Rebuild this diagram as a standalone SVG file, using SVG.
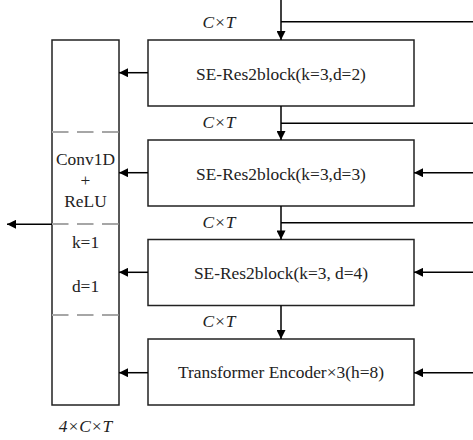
<svg xmlns="http://www.w3.org/2000/svg" width="473" height="440" viewBox="0 0 473 440">
<defs>
<marker id="ah" viewBox="0 0 10 10" refX="10" refY="5" markerWidth="10" markerHeight="9" markerUnits="userSpaceOnUse" orient="auto">
<path d="M0,0 L10,5 L0,10 Z" fill="#000"/>
</marker>
</defs>
<style>
.box{fill:#fff;stroke:#222;stroke-width:1.5}
.ln{fill:none;stroke:#000;stroke-width:1.5}
.arr{fill:none;stroke:#000;stroke-width:1.5;marker-end:url(#ah)}
.dash{stroke:#a6a6a6;stroke-width:2;stroke-dasharray:16.5 8.5}
.t{font-family:"Liberation Serif","Times New Roman",serif;font-size:17.4px;fill:#222;text-anchor:middle}
.it{font-family:"Liberation Serif","Times New Roman",serif;font-size:17.4px;font-style:italic;fill:#222;text-anchor:middle}
</style>
<g id="concat">
<rect class="box" x="52" y="40" width="67" height="365"/>
<line class="dash" x1="52" y1="132" x2="119" y2="132"/>
<line class="dash" x1="52" y1="224" x2="119" y2="224"/>
<line class="dash" x1="52" y1="315" x2="119" y2="315"/>
<text class="t" x="85.5" y="165">Conv1D</text>
<text class="t" x="85.5" y="185.5" fill="#666">+</text>
<text class="t" x="85.5" y="206.5">ReLU</text>
<text class="t" x="85.5" y="248">k=1</text>
<text class="t" x="85.5" y="291.5">d=1</text>
<text class="it" x="85.5" y="431.5">4×C×T</text>
</g>
<g id="block1">
<rect class="box" x="148" y="40" width="266" height="66"/>
<text class="t" x="281" y="79.5">SE-Res2block(k=3,d=2)</text>
</g>
<g id="block2">
<rect class="box" x="148" y="140" width="266" height="66"/>
<text class="t" x="281" y="179.5">SE-Res2block(k=3,d=3)</text>
</g>
<g id="block3">
<rect class="box" x="148" y="239.5" width="266" height="66"/>
<text class="t" x="281" y="278.5">SE-Res2block(k=3, d=4)</text>
</g>
<g id="block4">
<rect class="box" x="148" y="339" width="266" height="66"/>
<text class="t" x="281" y="378">Transformer Encoder×3(h=8)</text>
</g>
<g id="labels">
<text class="it" x="219" y="28">C×T</text>
<text class="it" x="219" y="128">C×T</text>
<text class="it" x="219" y="227.5">C×T</text>
<text class="it" x="219" y="327">C×T</text>
</g>
<g id="connectors">
<line class="arr" x1="281" y1="0" x2="281" y2="40"/>
<line class="ln" x1="281" y1="21.7" x2="473" y2="21.7"/>
<line class="arr" x1="281" y1="106" x2="281" y2="140"/>
<line class="ln" x1="281" y1="123.3" x2="473" y2="123.3"/>
<line class="arr" x1="281" y1="206" x2="281" y2="239.5"/>
<line class="ln" x1="281" y1="222.7" x2="473" y2="222.7"/>
<line class="arr" x1="281" y1="305.5" x2="281" y2="339"/>
<line class="arr" x1="473" y1="172.7" x2="414" y2="172.7"/>
<line class="arr" x1="473" y1="272.3" x2="414" y2="272.3"/>
<line class="arr" x1="473" y1="372.7" x2="414" y2="372.7"/>
<line class="arr" x1="148" y1="72.7" x2="119" y2="72.7"/>
<line class="arr" x1="148" y1="172.7" x2="119" y2="172.7"/>
<line class="arr" x1="148" y1="272.3" x2="119" y2="272.3"/>
<line class="arr" x1="148" y1="372.7" x2="119" y2="372.7"/>
<line class="arr" x1="52" y1="224.3" x2="7" y2="224.3"/>
</g>
</svg>
